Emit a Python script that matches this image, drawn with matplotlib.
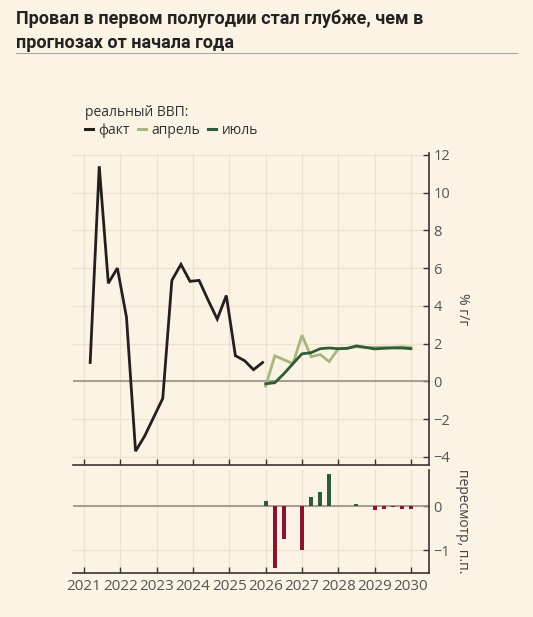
import matplotlib
matplotlib.use("Agg")
import matplotlib.pyplot as plt
from matplotlib.lines import Line2D
import numpy as np

# ---- data ----
fact_start = 2021.165
fact_values = [1.0, 11.4, 5.2, 6.0, 3.4, -3.7, -2.9, -1.9,
               -0.9, 5.35, 6.2, 5.3, 5.35, 4.3, 3.3, 4.55,
               1.36, 1.1, 0.62, 1.0]
fc_start = 2026.0
april_values = [-0.25, 1.35, 1.15, 0.94, 2.45, 1.31, 1.42, 1.05,
                1.73, 1.76, 1.83, 1.80, 1.80, 1.81, 1.80, 1.83, 1.80]
july_values = [-0.13, -0.07, 0.40, 0.94, 1.46, 1.52, 1.73, 1.77,
               1.73, 1.75, 1.88, 1.80, 1.72, 1.75, 1.77, 1.77, 1.73]
years = list(range(2021, 2031))
top_ticks = [-4, -2, 0, 2, 4, 6, 8, 10, 12]
bot_ticks = [-1, 0]

title = "Провал в первом полугодии стал глубже, чем в\nпрогнозах от начала года"
legend_title = "реальный ВВП:"
labels = ["факт", "апрель", "июль"]
ylab_top = "% г/г"
ylab_bot = "пересмотр, п.п."

# ---- derived ----
fact_x = fact_start + 0.25 * np.arange(len(fact_values))
fc_x = fc_start + 0.25 * np.arange(len(july_values))
revision = np.array(july_values) - np.array(april_values)

BG = "#fbf3e4"
BLACK = "#231f1f"
LIGHT = "#a9b77c"
DARK = "#2f5b35"
RED = "#8a1430"
GRID = "#ece2d0"
ZERO = "#9a8f84"
SPINE = "#3a3430"
TXT = "#555555"

plt.rcParams['font.family'] = ['Open Sans', 'DejaVu Sans']

fig = plt.figure(figsize=(5.33, 6.17), dpi=100, facecolor=BG)

ax = fig.add_axes([0.1375, 0.2464, 0.6675, 0.5056], facecolor=BG)
ax2 = fig.add_axes([0.1375, 0.0708, 0.6675, 0.1675], facecolor=BG, sharex=ax)

for a in (ax, ax2):
    a.set_xlim(2020.7, 2030.5)
    for s in ("top", "left"):
        a.spines[s].set_visible(False)
    for s in ("bottom", "right"):
        a.spines[s].set_color(SPINE)
        a.spines[s].set_linewidth(1.2)
    a.yaxis.tick_right()
    a.tick_params(axis="both", direction="in", length=4, width=1, color=SPINE,
                  labelcolor=TXT, labelsize=10.5, pad=3)
    a.set_xticks(years)
    a.grid(True, color=GRID, linewidth=0.9, zorder=0)
    a.set_axisbelow(True)
    a.axhline(0, color=ZERO, linewidth=1.2, zorder=1)

ax.set_ylim(-4.43, 12.1)
ax.set_yticks(top_ticks)
ax.set_yticklabels([str(t).replace("-", "\u2212") for t in top_ticks])
ax.tick_params(axis="x", labelbottom=False)

ax.plot(fact_x, fact_values, color=BLACK, linewidth=2.0, zorder=4, solid_joinstyle="miter")
ax.plot(fc_x, april_values, color=LIGHT, linewidth=2.0, zorder=3, solid_joinstyle="miter")
ax.plot(fc_x, july_values, color=DARK, linewidth=2.0, zorder=4, solid_joinstyle="miter")

ax2.set_ylim(-1.53, 0.82)
ax2.set_yticks(bot_ticks)
ax2.set_yticklabels([str(t).replace("-", "\u2212") for t in bot_ticks])
ax2.tick_params(axis="x", labelsize=11, pad=4)
ax2.bar(fc_x, revision, width=0.11, color=[DARK if v >= 0 else RED for v in revision], zorder=3)

ax.text(1.093, 0.5, ylab_top, rotation=-90, color="#444444", fontsize=10,
        transform=ax.transAxes, ha="center", va="center")
ax2.text(1.093, 0.5, ylab_bot, rotation=-90, color="#444444", fontsize=10,
         transform=ax2.transAxes, ha="center", va="center")

fig.text(0.03, 0.984, title, fontsize=13, fontweight="bold", color="#222222",
         va="top", ha="left", linespacing=1.38, family=["Roboto", "DejaVu Sans"])
fig.add_artist(Line2D([0.03, 0.97], [0.914, 0.914], color="#aaaaaa", linewidth=0.8,
                      transform=fig.transFigure))

handles = [Line2D([], [], color=c, linewidth=2.2) for c in (BLACK, LIGHT, DARK)]
leg = fig.legend(handles, labels, title=legend_title, ncol=3, loc="upper left",
                 bbox_to_anchor=(0.16, 0.83), frameon=False, fontsize=10,
                 title_fontsize=10, handlelength=0.55, handletextpad=0.4,
                 columnspacing=0.6, borderpad=0, labelspacing=0.2, borderaxespad=0)
leg._legend_box.align = "left"
leg.get_title().set_color("#333333")
for t in leg.get_texts():
    t.set_color("#333333")

fig.savefig("out.png", dpi=100, facecolor=BG)
